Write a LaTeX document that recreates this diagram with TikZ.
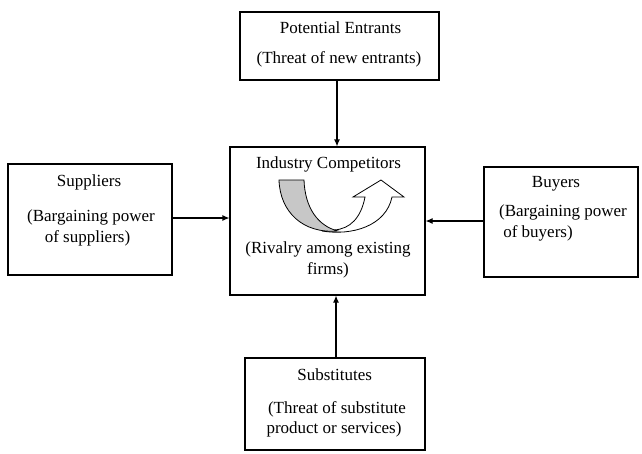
\documentclass[tikz,border=0pt]{standalone}
\usepackage{fontspec}
\setmainfont{Liberation Serif}
\usetikzlibrary{arrows.meta}
\begin{document}
\begin{tikzpicture}[x=1pt,y=-1pt,
  box/.style={draw, line width=1.1pt, inner sep=0pt},
  txt/.style={anchor=base, inner sep=0pt, font=\fontsize{17}{20}\selectfont},
  conn/.style={line width=1.1pt, -{Latex[length=7pt,width=6pt]}}]
\useasboundingbox (0,0) rectangle (642,453);
% boxes
\node[box, minimum width=199pt, minimum height=68pt] (top) at (339.5,46) {};
\node[box, minimum width=195pt, minimum height=148pt] (mid) at (327.5,221) {};
\node[box, minimum width=164pt, minimum height=111pt] (left) at (90,219.5) {};
\node[box, minimum width=154pt, minimum height=110pt] (right) at (561,222) {};
\node[box, minimum width=180pt, minimum height=92pt] (bot) at (335,404) {};
% texts
\node[txt] (t1) at (340.5,33) {Potential Entrants};
\node[txt] (t2) at (339,63) {(Threat of new entrants)};
\node[txt] (m1) at (328.5,168) {Industry Competitors};
\node[txt] (m2) at (328,253) {(Rivalry among existing};
\node[txt] (m3) at (328,274) {firms)};
\node[txt] (l1) at (89,186) {Suppliers};
\node[txt] (l2) at (91,221) {(Bargaining power};
\node[txt] (l3) at (87.5,242) {of suppliers)};
\node[txt] (r1) at (556,187) {Buyers};
\node[txt] (r2) at (563,216) {(Bargaining power};
\node[txt] (r3) at (538,237) {of buyers)};
\node[txt] (b1) at (334.7,380) {Substitutes};
\node[txt] (b2) at (337,413) {(Threat of substitute};
\node[txt] (b3) at (334,433) {product or services)};
% connectors
\draw[conn] (top.south -| 337,0) -- (mid.north -| 337,0);
\draw[conn] (left.east |- 0,218) -- (mid.west |- 0,218);
\draw[conn] (right.west |- 0,221) -- (mid.east |- 0,221);
\draw[conn] (bot.north -| 336,0) -- (mid.south -| 336,0);
% curved arrow
\draw[line width=0.8pt, fill=black!22] (279,180) -- (304,180)
  .. controls (305,208) and (318,226) .. (338,231)
  .. controls (303,234) and (280,212) .. (279,180) -- cycle;
\draw[line width=0.8pt] (322,231)
  .. controls (352,236) and (386,226) .. (392,197)
  -- (404,197) -- (381,180) -- (353,197) -- (365,197)
  .. controls (361,218) and (350,229) .. (334,230);
\end{tikzpicture}
\end{document}
